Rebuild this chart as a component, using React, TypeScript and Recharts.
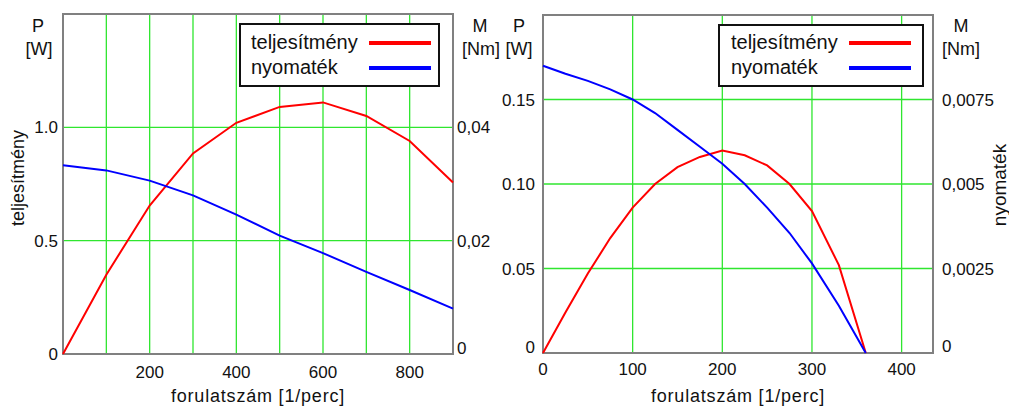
import { LineChart, Line, XAxis, YAxis, CartesianGrid, Legend, ReferenceArea, Label } from 'recharts'

// left motor: speed [1/perc], power [W], torque [Nm]
const leftRpm = [0, 100, 200, 300, 400, 500, 600, 700, 800, 900]
const leftPower = [0, 0.35, 0.655, 0.885, 1.02, 1.09, 1.11, 1.05, 0.94, 0.757]
const leftTorque = [0.0333, 0.0324, 0.0306, 0.028, 0.0246, 0.0209, 0.0178, 0.0145, 0.0113, 0.008]

// right motor
const rightRpm = [0, 25, 50, 75, 100, 125, 150, 175, 200, 225, 250, 275, 300, 330, 360]
const rightPower = [0, 0.024, 0.047, 0.068, 0.086, 0.1, 0.11, 0.116, 0.1198, 0.117, 0.111, 0.1, 0.084, 0.052, 0]
const rightTorque = [0.0085, 0.00826, 0.00805, 0.0078, 0.0075, 0.0071, 0.0066, 0.0061, 0.0056, 0.005, 0.0043, 0.00355, 0.00265, 0.0014, 0]

const leftXTicks = [0, 100, 200, 300, 400, 500, 600, 700, 800, 900]
const leftXLabels = [200, 400, 600, 800]
const leftPTicks = [0, 0.5, 1]
const leftMTicks = [0, 0.02, 0.04]

const rightXTicks = [0, 100, 200, 300, 400]
const rightPTicks = [0, 0.05, 0.1, 0.15]
const rightMTicks = [0, 0.0025, 0.005, 0.0075]

const seriesOrder = ['teljesítmény', 'nyomaték']

const leftData = leftRpm.map((rpm, i) => ({ rpm, power: leftPower[i], torque: leftTorque[i] }))
const rightData = rightRpm.map((rpm, i) => ({ rpm, power: rightPower[i], torque: rightTorque[i] }))

const GRID = '#2fe62f'
const FRAME = '#808080'
const INK = '#111'

function AxisTick(props: any) {
  const { x, y, payload, textAnchor, format, lift = 0 } = props
  const shift = payload.value === 0 ? -lift : 0
  return (
    <text x={x} y={y + shift} dy="0.355em" textAnchor={textAnchor} fontSize={17} fill={INK}>
      {format(payload.value)}
    </text>
  )
}

function LegendBox(props: any) {
  const { payload, textLeft, lineLeft, rowTop } = props
  const items = [...(payload || [])].sort(
    (a: any, b: any) => seriesOrder.indexOf(a.value) - seriesOrder.indexOf(b.value),
  )
  return (
    <div
      style={{
        boxSizing: 'border-box',
        width: '100%',
        height: '100%',
        border: `2px solid ${INK}`,
        background: '#fff',
        paddingTop: rowTop,
        position: 'relative',
      }}
    >
      {items.map((p: any) => (
        <div key={p.value} style={{ position: 'relative', height: 25 }}>
          <span
            style={{ position: 'absolute', left: textLeft, top: 0, lineHeight: '25px', fontSize: 20, color: INK }}
          >
            {p.value}
          </span>
          <span
            style={{ position: 'absolute', left: lineLeft, top: 11, width: 62, height: 4, background: p.color }}
          />
        </div>
      ))}
    </div>
  )
}

const fmtOne = (v: number) => (v === 0 ? '0' : v.toFixed(1))
const fmtTwo = (v: number) => (v === 0 ? '0' : v.toFixed(2))
const fmtComma = (v: number) => (v === 0 ? '0' : String(v).replace('.', ','))

function LeftChart() {
  return (
    <LineChart width={500} height={407} data={leftData} margin={{ top: 14, right: 0, bottom: 0, left: 0 }}>
      <CartesianGrid yAxisId="p" stroke={GRID} strokeWidth={1.3} />
      <XAxis
        dataKey="rpm"
        type="number"
        domain={[0, 900]}
        ticks={leftXTicks}
        interval={0}
        tickFormatter={(v: number) => (leftXLabels.includes(v) ? String(v) : '')}
        tickLine={false}
        axisLine={false}
        tickSize={0}
        tickMargin={12}
        height={53}
        tick={{ fontSize: 17, fill: INK }}
      >
        <Label value="forulatszám [1/perc]" position="insideBottom" offset={5} fontSize={18} fill={INK} style={{ letterSpacing: '0.8px' }} />
      </XAxis>
      <YAxis
        yAxisId="p"
        orientation="left"
        width={63}
        domain={[0, 1.5]}
        ticks={leftPTicks}
        interval={0}
        tickLine={false}
        axisLine={false}
        tickSize={0}
        tickMargin={5}
        tick={<AxisTick format={fmtOne} lift={0} />}
      />
      <YAxis
        yAxisId="m"
        orientation="right"
        width={47}
        domain={[0, 0.06]}
        ticks={leftMTicks}
        interval={0}
        tickLine={false}
        axisLine={false}
        tickSize={0}
        tickMargin={4}
        tick={<AxisTick format={fmtComma} lift={6} />}
      />
      <ReferenceArea yAxisId="p" x1={0} x2={900} y1={0} y2={1.5} fill="none" stroke={FRAME} strokeWidth={2} />
      <Line yAxisId="p" type="linear" dataKey="power" name="teljesítmény" stroke="#ff0000" strokeWidth={2} dot={false} isAnimationActive={false} />
      <Line yAxisId="m" type="linear" dataKey="torque" name="nyomaték" stroke="#0000ff" strokeWidth={2} dot={false} isAnimationActive={false} />
      <Legend
        layout="vertical"
        align="center"
        verticalAlign="middle"
        wrapperStyle={{ left: 239, top: 23, width: 201, height: 64 }}
        content={<LegendBox textLeft={10} lineLeft={128} rowTop={5} />}
      />
    </LineChart>
  )
}

function RightChart() {
  return (
    <LineChart width={509} height={407} data={rightData} margin={{ top: 15, right: 0, bottom: 0, left: 0 }}>
      <CartesianGrid yAxisId="p" stroke={GRID} strokeWidth={1.3} />
      <XAxis
        dataKey="rpm"
        type="number"
        domain={[0, 435]}
        ticks={rightXTicks}
        interval={0}
        tickLine={false}
        axisLine={false}
        tickSize={0}
        tickMargin={10}
        height={54}
        tick={{ fontSize: 17, fill: INK }}
      >
        <Label value="forulatszám [1/perc]" position="insideBottom" offset={5} fontSize={18} fill={INK} style={{ letterSpacing: '0.8px' }} />
      </XAxis>
      <YAxis
        yAxisId="p"
        orientation="left"
        width={43}
        domain={[0, 0.2]}
        ticks={rightPTicks}
        interval={0}
        tickLine={false}
        axisLine={false}
        tickSize={0}
        tickMargin={8}
        tick={<AxisTick format={fmtTwo} lift={6} />}
      />
      <YAxis
        yAxisId="m"
        orientation="right"
        width={76}
        domain={[0, 0.01]}
        ticks={rightMTicks}
        interval={0}
        tickLine={false}
        axisLine={false}
        tickSize={0}
        tickMargin={9}
        tick={<AxisTick format={fmtComma} lift={7} />}
      />
      <ReferenceArea yAxisId="p" x1={0} x2={435} y1={0} y2={0.2} fill="none" stroke={FRAME} strokeWidth={2} />
      <Line yAxisId="p" type="linear" dataKey="power" name="teljesítmény" stroke="#ff0000" strokeWidth={2} dot={false} isAnimationActive={false} />
      <Line yAxisId="m" type="linear" dataKey="torque" name="nyomaték" stroke="#0000ff" strokeWidth={2} dot={false} isAnimationActive={false} />
      <Legend
        layout="vertical"
        align="center"
        verticalAlign="middle"
        wrapperStyle={{ left: 218, top: 24, width: 206, height: 63 }}
        content={<LegendBox textLeft={11} lineLeft={129} rowTop={4} />}
      />
    </LineChart>
  )
}

export default function App() {
  return (
    <div
      style={{
        position: 'absolute',
        left: 0,
        top: 0,
        width: 1009,
        height: 407,
        background: '#fff',
        fontFamily: '"Liberation Sans", Arial, sans-serif',
        overflow: 'hidden',
      }}
    >
      <div style={{ position: 'absolute', left: 0, top: 0 }}>
        <LeftChart />
      </div>
      <div style={{ position: 'absolute', left: 500, top: 0 }}>
        <RightChart />
      </div>
      {/* unit captions and side titles */}
      <svg width={1009} height={407} style={{ position: 'absolute', left: 0, top: 0, pointerEvents: 'none' }}>
        <g fontSize={18} fill={INK} textAnchor="middle">
          <text x={38} y={32}>P</text>
          <text x={39} y={55}>[W]</text>
          <text x={480} y={32}>M</text>
          <text x={481} y={55}>[Nm]</text>
          <text x={519} y={32}>P</text>
          <text x={519} y={55}>[W]</text>
          <text x={961} y={32}>M</text>
          <text x={961} y={55}>[Nm]</text>
          <text transform="translate(24 178) rotate(-90)" fontSize={18}>teljesítmény</text>
          <text transform="translate(1006 185) rotate(-90)" fontSize={19}>nyomaték</text>
        </g>
      </svg>
    </div>
  )
}
